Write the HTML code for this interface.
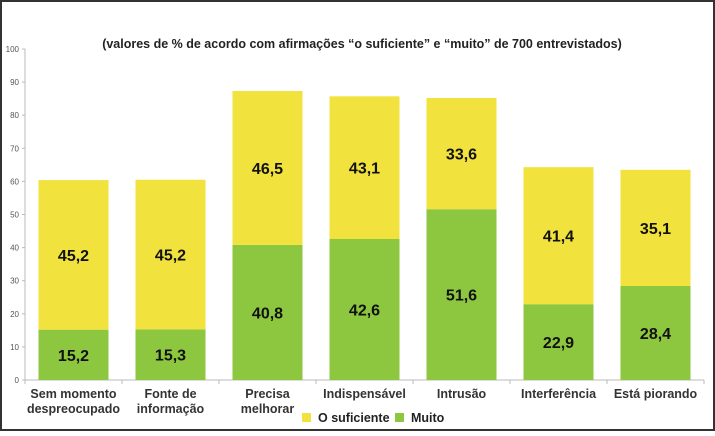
<!DOCTYPE html>
<html><head><meta charset="utf-8"><style>
html,body{margin:0;padding:0;background:#fff}
body{width:715px;height:431px;overflow:hidden;font-family:"Liberation Sans",sans-serif}
</style></head><body>
<svg id="chart" width="715" height="431" viewBox="0 0 715 431">
<rect x="1" y="1" width="713" height="429" fill="#fff" stroke="#333" stroke-width="2"/>
<text x="362" y="48" text-anchor="middle" font-size="12.5" font-weight="bold" fill="#222">(valores de % de acordo com afirmações “o suficiente” e “muito” de 700 entrevistados)</text>
<g id="axis"></g><g id="bars"></g>
<g>
<rect x="302" y="413" width="9" height="9" fill="#f2e23e"/>
<text x="318" y="422" font-size="12.5" font-weight="bold" fill="#222">O suficiente</text>
<rect x="395" y="413" width="9" height="9" fill="#8dc63f"/>
<text x="411" y="422" font-size="12.5" font-weight="bold" fill="#222">Muito</text>
</g>
</svg>
<script>
const categories=[["Sem momento","despreocupado"],["Fonte de","informação"],["Precisa","melhorar"],["Indispensável"],["Intrusão"],["Interferência"],["Está piorando"]];
const muito=[15.2,15.3,40.8,42.6,51.6,22.9,28.4];
const suficiente=[45.2,45.2,46.5,43.1,33.6,41.4,35.1];
const yTicks=[0,10,20,30,40,50,60,70,80,90,100];
const NS="http://www.w3.org/2000/svg";
const y0=380,y100=49,xStart=25,step=97,bw=70;
const y=v=>y0-(y0-y100)*v/100;
const xc=i=>xStart+48.5+i*step;
const fmt=v=>v.toFixed(1).replace('.',',');
function mk(t,a,p){const e=document.createElementNS(NS,t);for(const k in a)e.setAttribute(k,a[k]);p.appendChild(e);return e;}
const ax=document.getElementById('axis'),bars=document.getElementById('bars');
const yl=mk('line',{x1:xStart,x2:xStart,y1:y(100),y2:y0,stroke:'#bbb'},ax);


const xl=mk('line',{x1:xStart,x2:xStart+categories.length*step,y1:y0,y2:y0,stroke:'#bbb'},ax);


yTicks.forEach(t=>{
  mk('line',{x1:xStart-3,x2:xStart,y1:y(t),y2:y(t),stroke:'#bbb'},ax);
  const tx=mk('text',{x:xStart-6,y:y(t)+3,'text-anchor':'end','font-size':8,fill:'#555'},ax);
  tx.textContent=t;
  
  
});
for(let i=0;i<=categories.length;i++)mk('line',{x1:xStart+i*step,x2:xStart+i*step,y1:y0,y2:y0+4,stroke:'#bbb'},ax);
categories.forEach((c,i)=>{
  const x=xc(i)-bw/2;
  const g=mk('rect',{x:x,y:y(muito[i]),width:bw,height:y0-y(muito[i]),fill:'#8dc63f'},bars);
  
  
  const top=muito[i]+suficiente[i];
  const s=mk('rect',{x:x,y:y(top),width:bw,height:y(muito[i])-y(top),fill:'#f2e23e'},bars);
  
  
  const l1=mk('text',{x:xc(i),y:(y(muito[i])+y0)/2+6,'text-anchor':'middle','font-size':16,'font-weight':'bold',fill:'#111'},bars);
  l1.textContent=fmt(muito[i]);
  
  
  const l2=mk('text',{x:xc(i),y:(y(top)+y(muito[i]))/2+6,'text-anchor':'middle','font-size':16,'font-weight':'bold',fill:'#111'},bars);
  l2.textContent=fmt(suficiente[i]);
  
  
  c.forEach((line,j)=>{
    const t=mk('text',{x:xc(i),y:398+j*15,'text-anchor':'middle','font-size':12.5,'font-weight':'bold',fill:'#333'},bars);
    t.textContent=line;
    
    
  });
});
</script>
</body></html>
